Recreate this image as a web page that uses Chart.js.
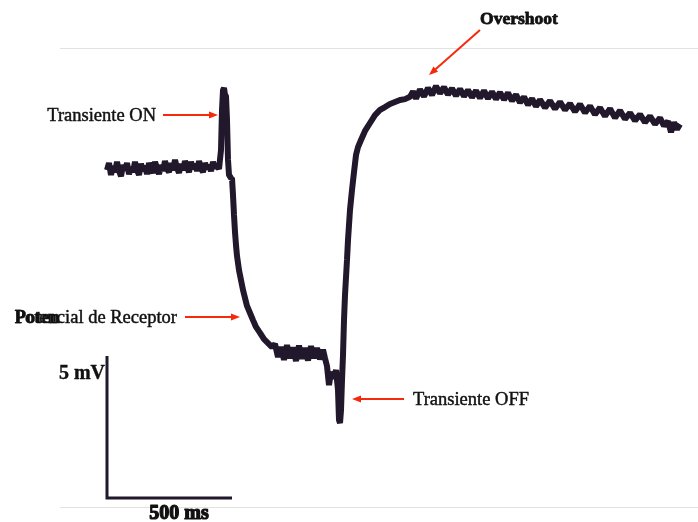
<!DOCTYPE html>
<html>
<head>
<meta charset="utf-8">
<title>Potencial de receptor</title>
<script src="https://cdn.jsdelivr.net/npm/chart.js@4.4.1/dist/chart.umd.min.js"></script>
<style>
  html, body { margin: 0; padding: 0; background: #ffffff; }
  #wrap { width: 698px; height: 522px; position: relative; }
</style>
</head>
<body>
<div id="wrap"><canvas id="trace"></canvas></div>
<script>
// Membrane potential recording, relative to the resting level (mV) vs time (ms)
const timeMs = [
  0, 8, 16, 24, 32, 40, 48, 56, 64, 72, 80, 88, 96, 104, 112, 120, 128, 136, 144, 152,
  160, 168, 176, 184, 192, 200, 208, 216, 224, 232, 240, 248, 256, 264, 272, 280, 288, 296, 304, 312,
  320, 328, 336, 344, 352, 360, 368, 376, 384, 392, 400, 408, 416, 424, 432, 440, 448,
  456, 460, 464, 468, 472, 476, 480, 484, 488, 496,
  500, 504, 508, 512, 516, 520, 528, 536, 544, 552, 560, 572, 584, 596, 612, 628, 644, 660,
  672, 684, 696, 708, 720, 732, 744, 756, 768, 780, 792, 804, 816, 828, 840, 852, 864, 872,
  880, 888, 896, 908, 916, 924, 928, 932, 936, 940, 944, 948, 952, 960, 964, 972, 980, 988, 996,
  1004, 1016, 1032, 1052, 1072, 1092, 1112, 1132, 1152, 1172, 1192, 1212,
  1224, 1236, 1252, 1268, 1284, 1300, 1316, 1332, 1348, 1364, 1380, 1396, 1412, 1428, 1444, 1460,
  1476, 1492, 1508, 1524, 1540, 1556, 1572, 1588, 1604, 1620, 1636, 1652, 1668, 1684, 1700, 1716,
  1732, 1752, 1772, 1792, 1812, 1832, 1852, 1872, 1892, 1912, 1932, 1952, 1972, 1992, 2012, 2032,
  2052, 2072, 2092, 2112, 2132, 2152, 2172, 2192, 2212, 2228, 2244, 2256, 2268, 2280, 2292
];
const potentialMv = [
  -0.04, 0.21, -0.21, 0.11, -0.11, 0.25, -0.07, -0.25, 0.14, -0.04, 0.21, -0.18, 0.07, -0.11, 0.25, -0.04, -0.21, 0.18, -0.07, 0.11,
  -0.18, 0.21, 0, -0.14, 0.25, 0.04, -0.18, 0.14, -0.07, 0.28, 0, -0.11, 0.21, -0.04, 0.32, 0.04, -0.14, 0.18, -0.04, 0.28,
  0.07, -0.11, 0.25, 0, 0.18, -0.07, 0.28, 0.04, -0.11, 0.21, 0, 0.14, -0.07, 0.25, 0.04, 0.11, 0,
  0.67, 2.08, 2.78, 2.85, 2.61, 2.57, 1.73, 0.32, -0.21, -0.32,
  -0.32, -0.92, -1.62, -2.22, -2.68, -3.06, -3.56, -3.91, -4.26, -4.54, -4.82, -5.07, -5.32, -5.56, -5.77, -5.99, -6.13, -6.27,
  -6.16, -6.62, -6.26, -6.72, -6.20, -6.66, -6.28, -6.76, -6.22, -6.68, -6.30, -6.74, -6.24, -6.66, -6.30, -6.70, -6.36, -6.66,
  -6.94, -7.61, -7.15, -7.36, -7.08, -7.78, -8.84, -8.94, -8.49, -7.43, -6.55, -5.32, -4.44, -3.20, -2.50, -1.44, -0.74, -0.11, 0.49,
  0.77, 1.02, 1.34, 1.62, 1.90, 2.08, 2.18, 2.29, 2.36, 2.43, 2.46, 2.54,
  2.73, 2.48, 2.80, 2.55, 2.85, 2.60, 2.92, 2.66, 2.88, 2.62, 2.84, 2.58, 2.82, 2.56, 2.78, 2.52,
  2.76, 2.50, 2.76, 2.48, 2.72, 2.46, 2.70, 2.44, 2.68, 2.40, 2.62, 2.34, 2.54, 2.26, 2.48, 2.20,
  2.44, 2.16, 2.40, 2.12, 2.36, 2.08, 2.30, 2.02, 2.28, 1.98, 2.22, 1.92, 2.16, 1.86, 2.12, 1.80,
  2.06, 1.76, 1.98, 1.70, 1.92, 1.64, 1.86, 1.58, 1.80, 1.52, 1.68, 1.30, 1.64, 1.40, 1.58
];

// Calibration bar: 5 mV vertical, 500 ms horizontal
const scaleBarMs = [0, 0, 500];
const scaleBarMv = [-6.58, -11.58, -11.58];
const scaleBarLabels = ['5 mV', '500 ms'];

// Annotated features of the response
const featureNames = ['Transiente ON', 'Potencial de Receptor', 'Transiente OFF', 'Overshoot'];
const arrowFromMs = [224, 312, 1188, 1492];
const arrowFromMv = [1.90, -5.21, -8.10, 4.89];
const arrowToMs = [444, 532, 980, 1288];
const arrowToMv = [1.90, -5.21, -8.10, 3.31];
const labelMs = [196, 280, 1224, 1648];
const labelMv = [1.87, -5.25, -8.13, 5.28];

const traceColor = '#21182b';
const arrowColor = '#f52a0c';
const serif = "'Liberation Serif', 'Times New Roman', serif";

const toPoints = (xs, ys) => xs.map((x, i) => ({ x: x, y: ys[i] }));

function drawArrow(ctx, x0, y0, x1, y1) {
  const ang = Math.atan2(y1 - y0, x1 - x0);
  const len = 9, half = 3.5;
  ctx.save();
  ctx.strokeStyle = arrowColor;
  ctx.fillStyle = arrowColor;
  ctx.lineWidth = 2;
  ctx.beginPath();
  ctx.moveTo(x0, y0);
  ctx.lineTo(x1 - Math.cos(ang) * len * 0.8, y1 - Math.sin(ang) * len * 0.8);
  ctx.stroke();
  ctx.beginPath();
  ctx.moveTo(x1, y1);
  ctx.lineTo(x1 - Math.cos(ang) * len - Math.sin(ang) * half, y1 - Math.sin(ang) * len + Math.cos(ang) * half);
  ctx.lineTo(x1 - Math.cos(ang) * len + Math.sin(ang) * half, y1 - Math.sin(ang) * len - Math.cos(ang) * half);
  ctx.closePath();
  ctx.fill();
  ctx.restore();
}

// Text with a thin outline so the serif face reads a little heavier
function heavyText(ctx, text, x, y, weight) {
  ctx.lineWidth = weight;
  ctx.strokeText(text, x, y);
  ctx.fillText(text, x, y);
}

const annotations = {
  id: 'annotations',
  afterDraw(chart) {
    const ctx = chart.ctx;
    const xs = chart.scales.x, ys = chart.scales.y;
    const px = v => xs.getPixelForValue(v);
    const py = v => ys.getPixelForValue(v);
    ctx.save();
    ctx.fillStyle = '#111111';
    ctx.strokeStyle = '#111111';
    ctx.lineJoin = 'round';
    ctx.textBaseline = 'middle';

    // Feature labels and arrows
    for (let i = 0; i < featureNames.length; i++) {
      drawArrow(ctx, px(arrowFromMs[i]), py(arrowFromMv[i]), px(arrowToMs[i]), py(arrowToMv[i]));
      const lx = px(labelMs[i]), ly = py(labelMv[i]);
      if (i === 3) {
        ctx.font = 'bold 17.5px ' + serif;
        ctx.textAlign = 'center';
        heavyText(ctx, featureNames[i], lx, ly, 0.8);
      } else {
        ctx.font = '18.5px ' + serif;
        ctx.textAlign = i === 2 ? 'left' : 'right';
        heavyText(ctx, featureNames[i], lx, ly, 0.45);
      }
      if (i === 1) {
        // heavier first letters of this label
        ctx.textAlign = 'left';
        const start = lx - ctx.measureText(featureNames[i]).width;
        ctx.font = 'bold 18.5px ' + serif;
        heavyText(ctx, featureNames[i].slice(0, 5), start, ly, 0.6);
      }
    }

    // Calibration bar labels
    ctx.font = 'bold 20px ' + serif;
    ctx.textAlign = 'right';
    heavyText(ctx, scaleBarLabels[0], px(-8), py(-7.22), 0.4);
    ctx.textAlign = 'center';
    heavyText(ctx, scaleBarLabels[1], px(288), py(-12.15), 1.2);
    ctx.restore();
  }
};

new Chart(document.getElementById('trace'), {
  type: 'line',
  data: {
    datasets: [
      {
        data: toPoints(timeMs, potentialMv),
        borderColor: traceColor,
        borderWidth: 6,
        pointRadius: 0,
        tension: 0,
        borderJoinStyle: 'bevel'
      },
      {
        data: toPoints(scaleBarMs, scaleBarMv),
        borderColor: traceColor,
        borderWidth: 3,
        pointRadius: 0,
        tension: 0,
        borderJoinStyle: 'miter'
      }
    ]
  },
  options: {
    responsive: true,
    maintainAspectRatio: false,
    animation: false,
    layout: { padding: { left: 60, right: 0, top: 48, bottom: 15 } },
    plugins: { legend: { display: false }, tooltip: { enabled: false } },
    scales: {
      x: { type: 'linear', min: -188, max: 2364, display: false },
      y: {
        type: 'linear',
        min: -11.9,
        max: 4.26,
        border: { display: false },
        ticks: { display: false },
        grid: { color: '#e2e2e2', lineWidth: 1, drawTicks: false },
        afterBuildTicks(scale) {
          scale.ticks = [{ value: scale.min }, { value: scale.max }];
        }
      }
    }
  },
  plugins: [annotations]
});
</script>
</body>
</html>
